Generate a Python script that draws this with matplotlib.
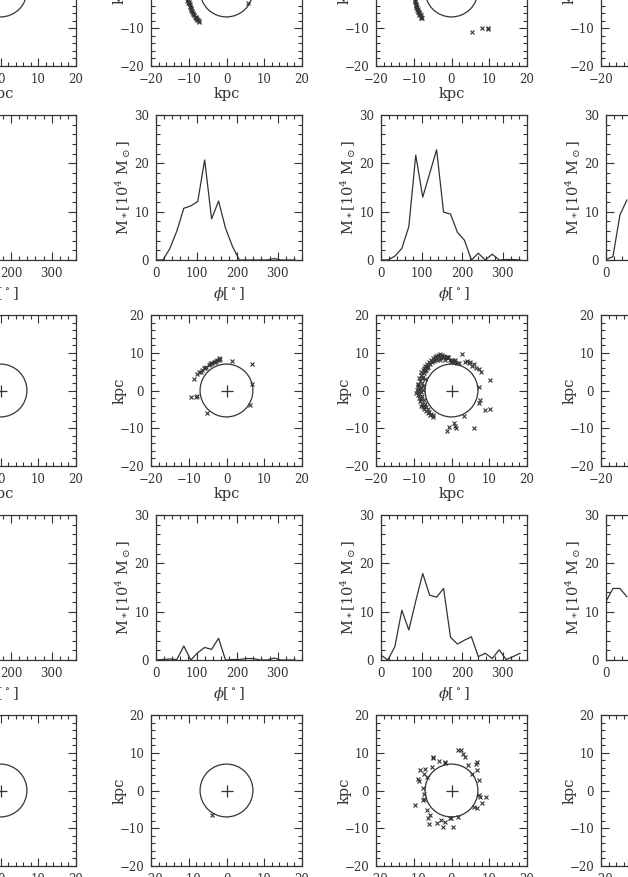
import matplotlib
matplotlib.use('Agg')
import matplotlib.pyplot as plt
from matplotlib.patches import Circle
from matplotlib.ticker import MultipleLocator

plt.rcParams['font.family'] = ['DejaVu Serif']
plt.rcParams['mathtext.fontset'] = 'dejavuserif'

INK = '#333333'

# ---------------- data ----------------
phi_bins = [0, 17.1, 34.3, 51.4, 68.6, 85.7, 102.9, 120.0, 137.1, 154.3, 171.4,
            188.6, 205.7, 222.9, 240.0, 257.1, 274.3, 291.4, 308.6, 325.7, 342.9]

mass_r2c2 = [0, 0, 2.4, 6.0, 10.7, 11.2, 12.1, 20.7, 8.5, 12.2, 6.6, 2.8, 0,
             0, 0, 0, 0, 0.3, 0, 0, 0]
mass_r2c3 = [0, 0, 0.8, 2.4, 6.9, 21.7, 13.0, 17.9, 22.8, 9.9, 9.5, 5.7, 4.1,
             0, 1.4, 0, 1.2, 0, 0.1, 0.1, 0]
mass_r2c4 = [0.1, 0.7, 9.3, 12.4]
mass_r4c2 = [0, 0.1, 0.2, 0.1, 2.9, 0, 1.5, 2.6, 2.2, 4.5, 0, 0.1, 0.1, 0.3,
             0.3, 0, 0, 0.4, 0, 0, 0]
mass_r4c3 = [1.0, 0, 2.8, 10.3, 6.2, 12.2, 17.9, 13.4, 13.0, 14.8, 4.7, 3.3,
             4.1, 4.8, 0.7, 1.4, 0.3, 2.1, 0.1, 0.7, 1.4]
mass_r4c4 = [12.1, 14.8, 14.8, 13.1]

stars_r1c2_x = [-10.6, -10.3, -10.0, -9.8, -9.6, -9.4, -9.1, -8.9, -8.7, -8.4,
                -8.1, -7.8, -7.5, -7.2, -9.9, -9.3, -8.8, -8.2, -10.4, -10.1,
                -9.7, -9.5, -9.2, -8.6, -8.0, -7.7, -7.4, 5.7]
stars_r1c2_y = [-1.5, -2.3, -3.0, -3.7, -4.3, -4.9, -5.6, -6.0, -6.5, -6.9,
                -7.2, -7.5, -7.8, -8.1, -3.4, -5.2, -6.3, -7.0, -2.7, -3.3,
                -4.1, -4.6, -5.4, -6.5, -7.4, -7.9, -8.3, -3.3]

stars_r1c3_x = [-9.9, -9.7, -9.6, -9.4, -9.3, -9.2, -9.0, -8.8, -8.6, -8.4,
                -8.2, -8.0, -7.9, -9.5, -9.1, -8.7, -9.8, -9.3, -8.9, -8.5,
                -8.1, 5.4, 8.2, 9.6, 9.8]
stars_r1c3_y = [-1.8, -2.4, -3.0, -3.5, -4.0, -4.4, -4.9, -5.3, -5.8, -6.2,
                -6.6, -7.0, -7.4, -3.8, -5.1, -6.0, -2.9, -4.6, -5.6, -6.5,
                -7.2, -11.1, -9.9, -9.9, -10.2]

stars_r3c2_x = [-8.7, -9.3, -8.0, -7.7, -5.2, 1.5, 6.75, 6.75, 6.3,
                -7.8, -7.2, -6.5, -5.9, -5.3, -4.7, -4.1, -3.4, -2.7, -2.1,
                -1.6, -6.8, -5.6, -4.4, -3.0, -2.4, -3.8, -1.9]
stars_r3c2_y = [3.0, -1.6, -1.6, -1.4, -5.9, 7.9, 6.9, 1.7, -3.8,
                4.4, 5.0, 5.4, 5.9, 6.3, 6.7, 7.2, 7.5, 7.9, 8.1,
                8.3, 4.9, 6.0, 6.9, 7.6, 8.2, 7.4, 8.5]

stars_r3c3_x = [-5.5, -5.0, -4.5, -4.0, -3.5, -3.0, -2.5, -2.0, -1.5, -1.0,
                -0.5, 0.0, 0.5, 1.0, 1.5, -3.8, -2.8, -1.8, -4.6, -0.2, 2.0,
                -6.0, -6.5, -7.0, -7.3, -7.6, -8.0, -8.2, -6.2, -6.8, -7.2,
                -7.6, -8.5, -5.8, -6.4,
                -8.4, -8.8, -9.0, -9.2, -9.3, -9.0, -7.8, -8.0, -7.6, -8.2,
                -7.8, -8.6, -8.3, -7.4, -8.5, -7.5,
                -7.8, -7.6, -7.2, -6.7, -6.2, -5.6, -5.0, -7.0, -6.8, -6.3,
                -8.0,
                -5.2, -4.2, -3.2, -2.2, -1.2, -6.6, -7.0, -7.9, -8.8, -8.9,
                -8.1, -7.3, -6.0, -5.4, -4.8, -3.0, -0.8, 0.8, -6.9, -8.3,
                2.8, 3.7, 4.6, 5.5, 6.5, 7.7, 10.3, 7.2, 7.6, 7.4, 9.0, 10.1,
                3.2, 0.75, 1.0, -0.75, -1.2, 1.3, 5.9, 4.1, 5.0, 6.0, 7.2]
stars_r3c3_y = [8.0, 8.5, 8.8, 9.2, 9.4, 9.6, 9.5, 9.2, 8.8, 8.5,
                8.2, 8.0, 7.8, 7.6, 7.4, 8.3, 8.6, 8.1, 7.9, 7.5, 7.3,
                7.5, 7.0, 6.5, 6.0, 5.4, 4.8, 4.0, 6.2, 5.5, 4.6,
                3.6, 3.2, 7.0, 6.4,
                2.5, 1.8, 1.0, 0.2, -0.6, -1.3, 2.0, 1.0, 0.2, -0.5,
                -1.5, -2.0, -2.8, -2.6, -0.9, 1.2,
                -3.5, -4.3, -5.0, -5.5, -6.0, -6.4, -7.0, -3.6, -4.4, -5.0,
                -4.0,
                7.6, 8.1, 8.9, 8.9, 8.9, 6.0, 5.2, 3.4, 1.4, -0.2,
                -2.2, -4.0, -5.6, -6.2, -6.6, 8.0, 9.0, 8.2, 3.0, 0.4,
                9.7, 7.6, 7.3, 6.6, 6.0, 5.0, 2.8, 0.8, -2.5, -3.4, -5.2, -4.8,
                -6.8, -8.5, -9.4, -9.8, -10.7, -10.0, -10.0, 7.9, 7.6, 6.9, 5.7]

stars_r5c2_x = [-3.8]
stars_r5c2_y = [-6.5]

stars_r5c3_x = [-5.0, -4.8, -3.4, -1.8, -1.6, -5.2, -6.9, -8.3, -7.4, -8.9,
                -8.6, -6.5, -7.5, -7.4, -7.6, -7.4, -9.6, -6.5, -5.6, -6.1,
                -5.9, -3.8, -2.9, -2.3, -1.6, -0.3, -0.1, 0.3, 1.7, 1.6, 2.5,
                3.0, 3.5, 4.3, 6.8, 6.6, 6.8, 5.4, 7.4, 7.2, 7.6, 9.1, 8.1,
                5.9, 6.8]
stars_r5c3_y = [8.7, 8.9, 7.9, 7.6, 7.4, 6.3, 5.7, 5.3, 4.4, 3.0,
                2.6, 3.5, 0.6, -0.9, -2.5, -2.3, -3.8, -5.2, -6.5, -7.4,
                -8.9, -8.5, -7.8, -9.6, -8.3, -7.4, -7.2, -9.8, -7.1, 10.6, 10.6,
                9.6, 9.0, 6.8, 7.5, 7.1, 5.4, 4.4, 2.8, -1.2, -1.6, -1.8, -3.2,
                -4.3, -4.7]

# ---------------- layout (pixels) ----------------
W, H = 628, 877
fig = plt.figure(figsize=(W / 100, H / 100), dpi=100)

col_right = [76, 302, 527, 752]
sp_top = {1: -85, 3: 315, 5: 715}
hi_top = {2: 115, 4: 515}
SP = 151
HW, HH = 146, 145


def add_px_axes(left, top, w, h):
    return fig.add_axes([left / W, (H - top - h) / H, w / W, h / H])


def style(ax):
    for s in ax.spines.values():
        s.set_color(INK)
        s.set_linewidth(0.9)
    ax.tick_params(which='both', direction='in', top=True, right=True,
                   colors=INK, labelcolor=INK, labelsize=8.5, width=0.8)
    ax.tick_params(which='major', length=6, pad=5)
    ax.tick_params(which='minor', length=3)


def spatial(row, col, xs=None, ys=None):
    ax = add_px_axes(col_right[col - 1] - SP, sp_top[row], SP, SP)
    ax.set_xlim(-20, 20)
    ax.set_ylim(-20, 20)
    ax.set_xticks([-20, -10, 0, 10, 20])
    ax.set_yticks([-20, -10, 0, 10, 20])
    ax.xaxis.set_minor_locator(MultipleLocator(2))
    ax.yaxis.set_minor_locator(MultipleLocator(2))
    style(ax)
    ax.add_patch(Circle((0, 0), 7, fill=False, ec=INK, lw=0.9))
    ax.plot([0], [0], marker='+', ms=9, mew=0.9, color=INK, ls='none')
    if xs is not None:
        ax.plot(xs, ys, marker='x', ms=3.0, mew=0.8, color=INK, ls='none')
    ax.set_xlabel('kpc', fontsize=10.5, color=INK, va='top')
    ax.set_ylabel('kpc', fontsize=10.5, color=INK)
    ax.xaxis.set_label_coords(0.5, -21 / SP)
    ax.yaxis.set_label_coords(-24 / SP, 0.5)
    return ax


def hist(row, col, vals=None):
    ax = add_px_axes(col_right[col - 1] - HW, hi_top[row], HW, HH)
    ax.set_xlim(0, 360)
    ax.set_ylim(0, 30)
    ax.set_xticks([0, 100, 200, 300])
    ax.set_yticks([0, 10, 20, 30])
    ax.xaxis.set_minor_locator(MultipleLocator(20))
    ax.yaxis.set_minor_locator(MultipleLocator(2))
    style(ax)
    if vals is not None:
        ax.plot(phi_bins[:len(vals)], vals, color=INK, lw=0.9)
    ax.set_xlabel(r'$\phi[^\circ]$', fontsize=10.5, color=INK, va='top')
    ax.set_ylabel(r'$\mathrm{M_*[10^4\ M_\odot]}$', fontsize=10.5, color=INK)
    ax.xaxis.set_label_coords(0.5, -25 / HH)
    ax.yaxis.set_label_coords(-23 / HW, 0.5)
    return ax


# row 1
spatial(1, 1)
spatial(1, 2, stars_r1c2_x, stars_r1c2_y)
spatial(1, 3, stars_r1c3_x, stars_r1c3_y)
spatial(1, 4)
# row 2
hist(2, 1)
hist(2, 2, mass_r2c2)
hist(2, 3, mass_r2c3)
hist(2, 4, mass_r2c4)
# row 3
spatial(3, 1)
spatial(3, 2, stars_r3c2_x, stars_r3c2_y)
spatial(3, 3, stars_r3c3_x, stars_r3c3_y)
spatial(3, 4)
# row 4
hist(4, 1)
hist(4, 2, mass_r4c2)
hist(4, 3, mass_r4c3)
hist(4, 4, mass_r4c4)
# row 5
spatial(5, 1)
spatial(5, 2, stars_r5c2_x, stars_r5c2_y)
spatial(5, 3, stars_r5c3_x, stars_r5c3_y)
spatial(5, 4)

fig.savefig('out.png', dpi=100)
